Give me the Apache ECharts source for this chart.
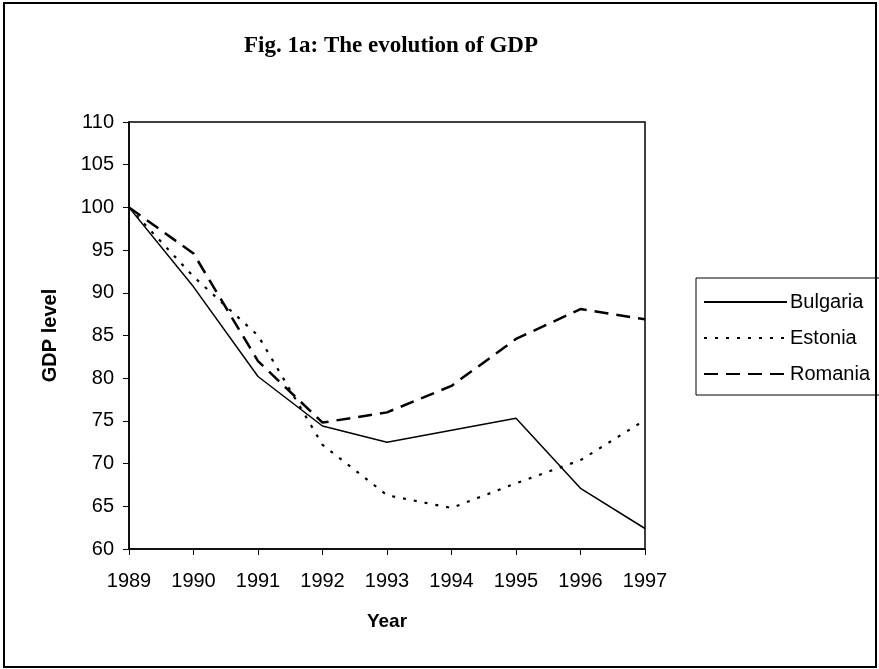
<!DOCTYPE html>
<html lang="en">
  <head>
    <meta charset="UTF-8" />
    <title>Fig. 1a: The evolution of GDP</title>
    <script src="https://cdn.jsdelivr.net/npm/echarts@6/dist/echarts.min.js"></script>
    <style>
      body { margin: 0; background: #fff; }
      #main { width: 879px; height: 669px; }
    </style>
  </head>
  <body>
    <div id="main"></div>
    <script>
      // data
      const years = ["1989", "1990", "1991", "1992", "1993", "1994", "1995", "1996", "1997"]
      const bulgaria = [100, 90.7, 80.2, 74.4, 72.5, 73.9, 75.3, 67.1, 62.4]
      const estonia = [100, 91.9, 85.0, 72.2, 66.3, 64.8, 67.7, 70.4, 75.1]
      const romania = [100, 94.6, 82.0, 74.8, 76.0, 79.1, 84.6, 88.1, 86.9]

      const font = "Liberation Sans, Arial, sans-serif"
      const chart = echarts.init(document.getElementById("main"))

      chart.setOption({
        animation: false,
        backgroundColor: "#fff",
        title: {
          text: "Fig. 1a: The evolution of GDP",
          left: 386,
          top: 30,
          textAlign: "center",
          textStyle: { fontFamily: "Liberation Serif, Times New Roman, serif", fontSize: 23, fontWeight: "bold", color: "#000" },
        },
        graphic: [
          {
            type: "rect",
            shape: { x: 4, y: 3, width: 872, height: 664 },
            style: { fill: "none", stroke: "#000", lineWidth: 2 },
            z: 100,
          },
        ],
        grid: {
          left: 129, right: 234, top: 122, bottom: 120,
          show: true, borderColor: "#000", borderWidth: 1.5,
        },
        legend: {
          orient: "vertical",
          left: 696,
          top: 278,
          padding: [14, 90, 11, 7],
          itemWidth: 83,
          itemHeight: 20,
          itemGap: 16,
          borderColor: "#000",
          borderWidth: 1,
          itemStyle: { opacity: 0 },
          textStyle: { fontFamily: font, fontSize: 20, color: "#000", padding: [0, 0, 0, -2] },
          data: ["Bulgaria", "Estonia", "Romania"],
        },
        xAxis: {
          type: "category",
          data: years,
          boundaryGap: false,
          name: "Year",
          nameLocation: "middle",
          nameGap: 63,
          nameTextStyle: { fontFamily: font, fontSize: 19, fontWeight: "bold", color: "#000" },
          axisLine: { lineStyle: { color: "#000", width: 1.5 } },
          axisTick: { length: 6, lineStyle: { color: "#000" } },
          axisLabel: { fontFamily: font, fontSize: 20, color: "#000", margin: 22 },
          splitLine: { show: false },
        },
        yAxis: {
          type: "value",
          min: 60, max: 110, interval: 5,
          name: "GDP level",
          nameLocation: "middle",
          nameGap: 69,
          nameMoveOverlap: false,
          nameTextStyle: { fontFamily: font, fontSize: 20, fontWeight: "bold", color: "#000" },
          axisLine: { show: true, lineStyle: { color: "#000", width: 1.5 } },
          axisTick: { show: true, length: 6, lineStyle: { color: "#000" } },
          axisLabel: { fontFamily: font, fontSize: 20, color: "#000", margin: 15 },
          splitLine: { show: false },
        },
        series: [
          {
            name: "Bulgaria", type: "line", data: bulgaria, symbol: "none",
            lineStyle: { color: "#000", width: 1.5, type: "solid" },
            itemStyle: { color: "#000" },
          },
          {
            name: "Estonia", type: "line", data: estonia, symbol: "none",
            lineStyle: { color: "#000", width: 2.2, type: [3, 8] },
            itemStyle: { color: "#000" },
          },
          {
            name: "Romania", type: "line", data: romania, symbol: "none",
            lineStyle: { color: "#000", width: 2.5, type: [14, 8] },
            itemStyle: { color: "#000" },
          },
        ],
      })
    </script>
  </body>
</html>
